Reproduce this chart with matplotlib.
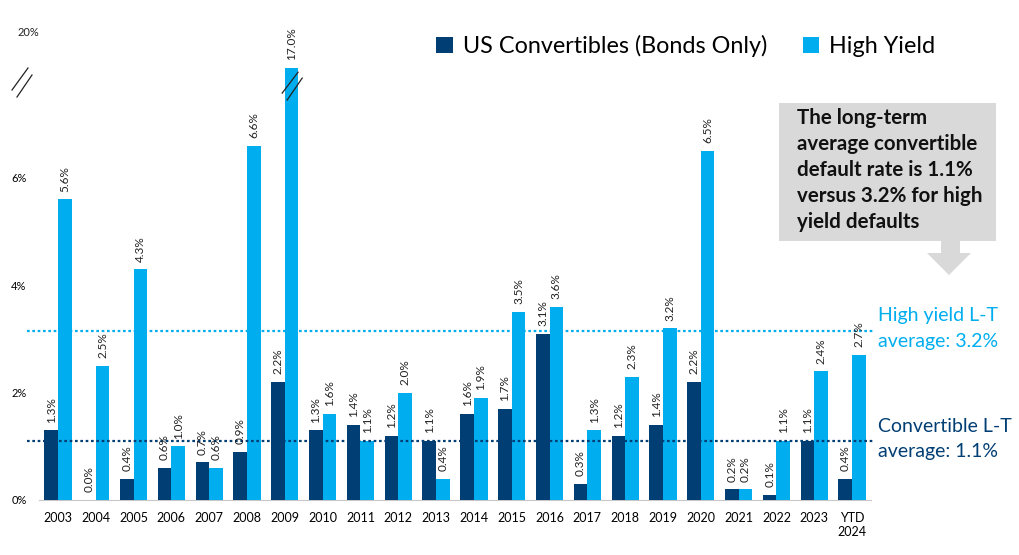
import matplotlib
matplotlib.use("Agg")
import matplotlib.pyplot as plt
from matplotlib.patches import Rectangle, Polygon
from matplotlib.lines import Line2D
import matplotlib.transforms as mtransforms

plt.rcParams['font.family'] = ['Lato', 'DejaVu Sans']

years = ['2003', '2004', '2005', '2006', '2007', '2008', '2009', '2010', '2011', '2012',
         '2013', '2014', '2015', '2016', '2017', '2018', '2019', '2020', '2021', '2022',
         '2023', 'YTD\n2024']
conv = [1.3, 0.0, 0.4, 0.6, 0.7, 0.9, 2.2, 1.3, 1.4, 1.2, 1.1, 1.6, 1.7, 3.1, 0.3, 1.2,
        1.4, 2.2, 0.2, 0.1, 1.1, 0.4]
hy = [5.6, 2.5, 4.3, 1.0, 0.6, 6.6, 17.0, 1.6, 1.1, 2.0, 0.4, 1.9, 3.5, 3.6, 1.3, 2.3,
      3.2, 6.5, 0.2, 1.1, 2.4, 2.7]
conv_avg = 1.1
hy_avg = 3.15
break_cap = 8.05  # displayed height of bars beyond the axis break
ytick_vals = [0, 2, 4, 6]
ytick_labels = ['0%', '2%', '4%', '6%']

C_DARK = '#003E74'
C_LIGHT = '#00AEEF'

fig = plt.figure(figsize=(10.2, 5.55), dpi=100)
ax = fig.add_axes([39/1020, 55/555, (871-39)/1020, (500-33)/555])

x = list(range(len(years)))
w = 0.36
hy_disp = [min(v, break_cap) for v in hy]
b1 = ax.bar([i - w/2 for i in x], conv, width=w, color=C_DARK, label='US Convertibles (Bonds Only)', zorder=3)
b2 = ax.bar([i + w/2 for i in x], hy_disp, width=w, color=C_LIGHT, label='High Yield', zorder=3)

for i in x:
    ax.annotate(f'{conv[i]:.1f}%', (i - w/2, conv[i]), xytext=(0, 5.5), textcoords='offset points',
                rotation=90, ha='center', va='bottom', fontsize=8.5, color='#222222', zorder=5)
    ax.annotate(f'{hy[i]:.1f}%', (i + w/2, hy_disp[i]), xytext=(0, 5.5), textcoords='offset points',
                rotation=90, ha='center', va='bottom', fontsize=8.5, color='#222222', zorder=5)

ax.set_xlim(-0.5, len(years) - 0.5)
ax.set_ylim(0, 8.7)
ax.set_xticks(x)
ax.set_xticklabels(years, fontsize=9, linespacing=1.2)
ax.set_yticks(ytick_vals)
ax.set_yticklabels(ytick_labels, fontsize=8)
ax.tick_params(axis='both', length=0)
ax.tick_params(axis='x', pad=9)
ax.tick_params(axis='y', pad=9)
for s in ['top', 'right', 'left']:
    ax.spines[s].set_visible(False)
ax.spines['bottom'].set_color('#C8C8C8')

# average lines
trans = mtransforms.blended_transform_factory(ax.transAxes, ax.transData)
ax.plot([-0.015, 1.005], [hy_avg, hy_avg], transform=trans, color=C_LIGHT, lw=1.6,
        ls=(0, (1.2, 1.2)), clip_on=False, zorder=4)
ax.plot([-0.015, 1.005], [conv_avg, conv_avg], transform=trans, color=C_DARK, lw=1.6,
        ls=(0, (1.2, 1.2)), clip_on=False, zorder=4)

# top "20%" label
fig.text(18/1020, 1 - 33/555, '20%', fontsize=8, ha='left', va='center', color='#222222')

# axis break marks on the left
for (x0, y0, x1, y1) in [(12, 90, 28, 68), (17, 97, 32, 75)]:
    fig.add_artist(Line2D([x0/1020, x1/1020], [1 - y0/555, 1 - y1/555], color='#222222', lw=0.9))

# break marks over the 2009 high yield bar
i09 = years.index('2009')
cx = i09 + w/2
for (dx0, y0, dx1, y1) in [(-0.25, 7.58, 0.17, 7.97), (-0.12, 7.45, 0.28, 7.86)]:
    ax.plot([cx + dx0, cx + dx1], [y0, y1], color='#222222', lw=0.9, zorder=6, clip_on=False)

# legend
leg = fig.legend(handles=[b1, b2], loc='center', bbox_to_anchor=(686/1020, 1 - 46/555),
                 ncol=2, frameon=False, fontsize=16.8, handlelength=0.7, handleheight=0.7,
                 handletextpad=0.45, columnspacing=1.5)

# right-side annotations
fig.text(878/1020, 1 - 316/555, 'High yield L-T', fontsize=14, color=C_LIGHT, ha='left', va='center')
fig.text(878/1020, 1 - 342/555, 'average: 3.2%', fontsize=14, color=C_LIGHT, ha='left', va='center')
fig.text(878/1020, 1 - 426/555, 'Convertible L-T', fontsize=14, color=C_DARK, ha='left', va='center')
fig.text(878/1020, 1 - 452/555, 'average: 1.1%', fontsize=14, color=C_DARK, ha='left', va='center')

# callout box
box_col = '#D9D9D9'
fig.add_artist(Rectangle((779/1020, 1 - 241/555), (996-779)/1020, (241-103)/555,
                         transform=fig.transFigure, facecolor=box_col, edgecolor='none'))
arrow_px = [(941, 241), (960, 241), (960, 253), (971, 253), (949, 275), (927, 253), (941, 253)]
fig.add_artist(Polygon([(px/1020, 1 - py/555) for px, py in arrow_px], closed=True,
                       transform=fig.transFigure, facecolor=box_col, edgecolor='none'))
callout = ['The long-term', 'average convertible', 'default rate is 1.1%',
           'versus 3.2% for high', 'yield defaults']
for k, line in enumerate(callout):
    fig.text(797/1020, 1 - (118 + 26*k)/555, line, fontsize=14.8, fontweight='bold',
             color='#111111', ha='left', va='center')

fig.savefig('out.png', dpi=100)
